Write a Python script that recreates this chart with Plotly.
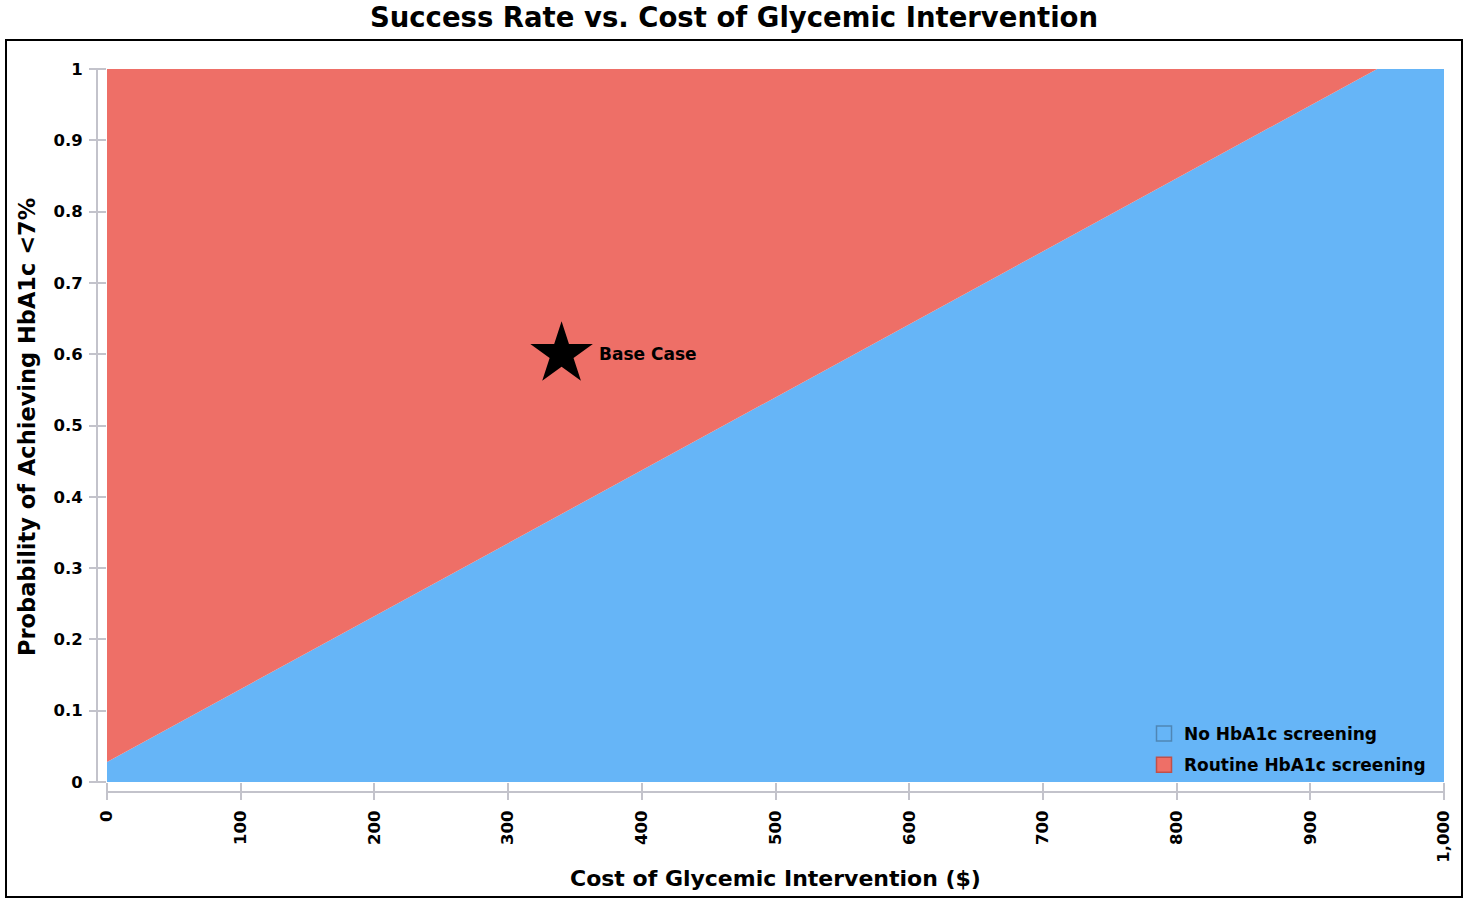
import plotly.graph_objects as go

# ---- data ----
boundary_cost = [0, 950, 1000]          # cost of glycemic intervention ($)
boundary_prob = [0.028, 1.0, 1.0]       # threshold probability
routine_cost = [0, 950, 0]              # region where routine screening preferred
routine_prob = [0.028, 1.0, 1.0]
base_case_cost = [340]
base_case_prob = [0.6]
base_case_label = ["Base Case"]
series_names = ["No HbA1c screening", "Routine HbA1c screening"]
series_colors = ["#66B5F7", "#EE6F67"]
series_edges = ["#4F86B5", "#C0504A"]
x_tickvals = [0, 100, 200, 300, 400, 500, 600, 700, 800, 900, 1000]
x_ticktext = ["0", "100", "200", "300", "400", "500", "600", "700", "800", "900", "1,000"]
y_tickvals = [0, 0.1, 0.2, 0.3, 0.4, 0.5, 0.6, 0.7, 0.8, 0.9, 1]
y_ticktext = ["0", "0.1", "0.2", "0.3", "0.4", "0.5", "0.6", "0.7", "0.8", "0.9", "1"]

FONT = "DejaVu Sans"
W, H = 1466, 901
L, R, T, B = 107, 22, 69, 119
PW, PH = W - L - R, H - T - B

fig = go.Figure()
fig.add_trace(go.Scatter(x=boundary_cost, y=boundary_prob, mode="lines", fill="tozeroy",
                         fillcolor=series_colors[0], line=dict(width=0), showlegend=False,
                         hoverinfo="skip"))
fig.add_trace(go.Scatter(x=routine_cost, y=routine_prob, mode="lines", fill="toself",
                         fillcolor=series_colors[1], line=dict(width=0), showlegend=False,
                         hoverinfo="skip"))
for name, c, e in zip(series_names, series_colors, series_edges):
    fig.add_trace(go.Scatter(x=[None], y=[None], mode="markers", name=name, legendgroup=name,
                             marker=dict(symbol="square", size=15, color=c,
                                         line=dict(color=e, width=1.5))))
fig.add_trace(go.Scatter(x=base_case_cost, y=base_case_prob, mode="markers",
                         marker=dict(symbol="star", size=47, color="black", line=dict(width=0)),
                         showlegend=False))

gray = "#c3c3cb"
axis_common = dict(showgrid=False, zeroline=False, showline=False, ticks="outside",
                   ticklen=17, tickwidth=2, tickcolor=gray,
                   tickfont=dict(family=FONT, size=16.5, color="black", weight="bold"))
fig.update_xaxes(range=[0, 1000], tickvals=x_tickvals, ticktext=x_ticktext, tickangle=-90,
                 ticklabelstandoff=4, **axis_common)
fig.update_yaxes(range=[0, 1], tickvals=y_tickvals, ticktext=y_ticktext,
                 ticklabelstandoff=3, **axis_common)

shapes = [
    # offset axis lines
    dict(type="line", xref="paper", yref="y", x0=-10 / PW, x1=-10 / PW, y0=0, y1=1,
         line=dict(color=gray, width=2)),
    dict(type="line", xref="x", yref="paper", x0=0, x1=1000, y0=-10 / PH, y1=-10 / PH,
         line=dict(color=gray, width=2)),
    # outer frame
    dict(type="rect", xref="paper", yref="paper",
         x0=(6 - L) / PW, x1=(1462 - L) / PW, y0=(H - B - 897) / PH, y1=(H - B - 40) / PH,
         line=dict(color="black", width=2)),
]

annotations = [
    dict(text=base_case_label[0], x=base_case_cost[0], y=base_case_prob[0], xref="x", yref="y",
         xanchor="left", yanchor="middle", xshift=35, showarrow=False,
         font=dict(family=FONT, size=17, color="black", weight="bold")),
    dict(text="Cost of Glycemic Intervention ($)", xref="paper", yref="paper",
         x=(775 - L) / PW, y=(H - B - 878) / PH, xanchor="center", yanchor="middle",
         showarrow=False, font=dict(family=FONT, size=22, color="black", weight="bold")),
    dict(text="Probability of Achieving HbA1c <7%", xref="paper", yref="paper",
         x=(27 - L) / PW, y=(H - B - 427) / PH, xanchor="center", yanchor="middle",
         showarrow=False, textangle=-90,
         font=dict(family=FONT, size=22.5, color="black", weight="bold")),
]

fig.update_layout(
    width=W, height=H,
    margin=dict(l=L, r=R, t=T, b=B),
    paper_bgcolor="white", plot_bgcolor="white",
    title=dict(text="Success Rate vs. Cost of Glycemic Intervention", x=734 / W, xanchor="center",
               y=1 - 17 / H, yanchor="middle", yref="container",
               font=dict(family=FONT, size=27.5, color="black", weight="bold")),
    legend=dict(x=(1144 - L) / PW, y=(H - B - 783) / PH, xanchor="left", yanchor="bottom",
                bgcolor="rgba(0,0,0,0)", font=dict(family=FONT, size=17, color="black", weight="bold"),
                itemsizing="trace", tracegroupgap=6),
    shapes=shapes, annotations=annotations,
)

fig.write_html("out.html", config={"displayModeBar": False},
               post_script="document.body.style.margin='0';document.body.style.overflow='hidden';")
